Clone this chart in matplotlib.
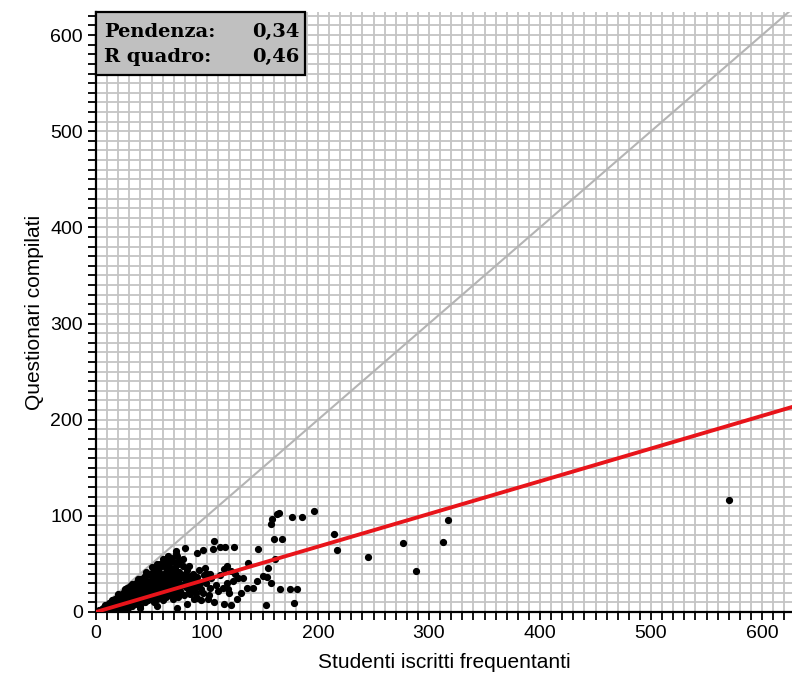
import matplotlib
matplotlib.use("Agg")
import matplotlib.pyplot as plt
import numpy as np
from matplotlib.patches import Rectangle
from matplotlib.ticker import MultipleLocator

# points (studenti, questionari)
studenti = [3, 5, 6, 7, 8, 9, 10, 11, 12, 12, 13, 14, 15, 15, 16, 17, 17, 18, 19, 19,
            20, 21, 21, 22, 22, 23, 24, 24, 25, 26, 26, 27, 27, 28, 28, 29, 29, 30, 30, 31,
            31, 32, 32, 33, 33, 34, 34, 35, 35, 36, 36, 37, 37, 38, 38, 39, 39, 40, 40, 40,
            41, 41, 42, 42, 43, 43, 44, 44, 45, 45, 46, 46, 47, 47, 48, 48, 49, 49, 50, 50,
            51, 51, 52, 52, 53, 53, 54, 54, 55, 55, 56, 56, 57, 57, 58, 58, 59, 59, 60, 60,
            61, 61, 62, 62, 63, 63, 64, 64, 65, 65, 66, 66, 67, 67, 68, 68, 69, 69, 70, 70,
            71, 71, 72, 72, 73, 73, 74, 74, 75, 75, 76, 77, 78, 78, 79, 80, 80, 81, 82, 83,
            84, 85, 86, 87, 88, 89, 90, 91, 92, 93, 94, 95, 97, 99,
            8, 14, 20, 26, 32, 38, 45, 50, 55, 60, 65,
            80, 106, 91, 96, 105, 112, 116, 124, 72, 73, 75, 58, 62, 146, 137,
            160, 168, 158, 159, 163, 165, 177, 196, 214, 217, 161, 155, 150, 154, 158,
            166, 175, 181, 178, 153, 127, 122, 115, 131, 136, 141, 145, 123, 128, 132,
            118, 122, 114, 119, 98, 103, 98, 103, 85, 87, 82, 73, 55, 40, 24, 19,
            96, 101, 85, 91,
            100, 104, 108, 110, 112, 115, 118, 120, 125, 102, 106, 95, 88, 84, 78, 70, 66, 63,
            186, 245, 277, 288, 313, 317, 570]
questionari = [2, 3, 4, 2, 5, 6, 4, 7, 3, 9, 6, 10, 5, 12, 8, 3, 14, 10, 6, 15,
               12, 8, 18, 4, 14, 10, 20, 6, 16, 12, 22, 8, 18, 14, 25, 4, 20, 10, 16, 27,
               22, 12, 6, 18, 28, 24, 14, 8, 20, 30, 26, 16, 10, 22, 32, 18, 12, 26, 34, 6,
               20, 14, 30, 24, 36, 16, 10, 28, 22, 38, 18, 32, 26, 12, 40, 20, 30, 24, 16, 36,
               42, 28, 22, 10, 34, 18, 44, 26, 30, 14, 38, 22, 46, 28, 18, 34, 24, 40, 30, 12,
               48, 20, 36, 26, 42, 16, 32, 22, 52, 28, 38, 18, 44, 30, 24, 56, 34, 14, 40, 28,
               20, 46, 32, 60, 26, 38, 16, 50, 30, 42, 22, 36, 28, 48, 18, 34, 40, 26, 44, 30,
               22, 36, 28, 40, 24, 32, 20, 36, 28, 44, 30, 24, 38, 30,
               7, 13, 19, 24, 29, 34, 42, 47, 50, 55, 58,
               67, 74, 61, 64, 66, 68, 68, 68, 63, 58, 53, 50, 50, 66, 51,
               76, 76, 92, 97, 102, 103, 99, 105, 81, 64, 55, 46, 37, 36, 30,
               24, 24, 24, 9, 7, 14, 7, 8, 20, 25, 25, 32, 32, 35, 35,
               48, 43, 25, 24, 46, 40, 32, 25, 37, 32, 8, 4, 6, 4, 3, 4,
               20, 14, 19, 15,
               40, 35, 28, 22, 38, 45, 30, 20, 40, 18, 10, 12, 14, 48, 55, 52, 48, 55,
               99, 57, 72, 43, 73, 96, 116]

pendenza = 0.34
r_quadro = 0.46

sans = ['Liberation Sans', 'DejaVu Sans']

fig = plt.figure(figsize=(7.92, 6.87), dpi=100)
ax = fig.add_axes([96 / 792, 75 / 687, 1 - 96 / 792, (612 - 12) / 687])

ax.set_xlim(0, 627)
ax.set_ylim(0, 624)

# grid every 10 units
ax.xaxis.set_major_locator(MultipleLocator(100))
ax.yaxis.set_major_locator(MultipleLocator(100))
ax.xaxis.set_minor_locator(MultipleLocator(10))
ax.yaxis.set_minor_locator(MultipleLocator(10))
ax.grid(True, which='both', color='#c4c4c4', linewidth=1.3)
ax.set_axisbelow(True)

for s in ['top', 'right']:
    ax.spines[s].set_visible(False)
for s in ['left', 'bottom']:
    ax.spines[s].set_linewidth(1.6)
    ax.spines[s].set_color('black')

ax.tick_params(which='both', direction='out', length=6, width=1.3, color='black')
ax.tick_params(which='major', labelsize=14)

# bisector and regression line
xx = np.array([0, 627])
ax.plot(xx, xx, color='#b4b4b4', linewidth=1.5, zorder=2)
ax.plot(studenti, questionari, 'o', color='black', markersize=4.2, zorder=3)
ax.plot(xx, pendenza * xx, color='#e8141a', linewidth=2.8, zorder=4)

for lab in ax.get_xticklabels() + ax.get_yticklabels():
    lab.set_family(sans)
ax.set_xlabel("Studenti iscritti frequentanti", fontsize=15, family=sans, labelpad=8)
ax.set_ylabel("Questionari compilati", fontsize=15, family=sans, labelpad=4)

# stats box
ax.add_patch(Rectangle((0.0, 0.895), 0.30, 0.105, transform=ax.transAxes,
                       facecolor='#c0c0c0', edgecolor='black', linewidth=1.6,
                       zorder=5, clip_on=False))
box_font = dict(fontsize=14, fontweight='bold', family=['DejaVu Serif'],
                va='center', transform=ax.transAxes, zorder=6)
ax.text(0.012, 0.967, "Pendenza:", **box_font)
ax.text(0.012, 0.925, "R quadro:", **box_font)
ax.text(0.292, 0.967, "0,%02d" % round(pendenza * 100), ha='right', **box_font)
ax.text(0.292, 0.925, "0,%02d" % round(r_quadro * 100), ha='right', **box_font)

fig.savefig("out.png", dpi=100)
